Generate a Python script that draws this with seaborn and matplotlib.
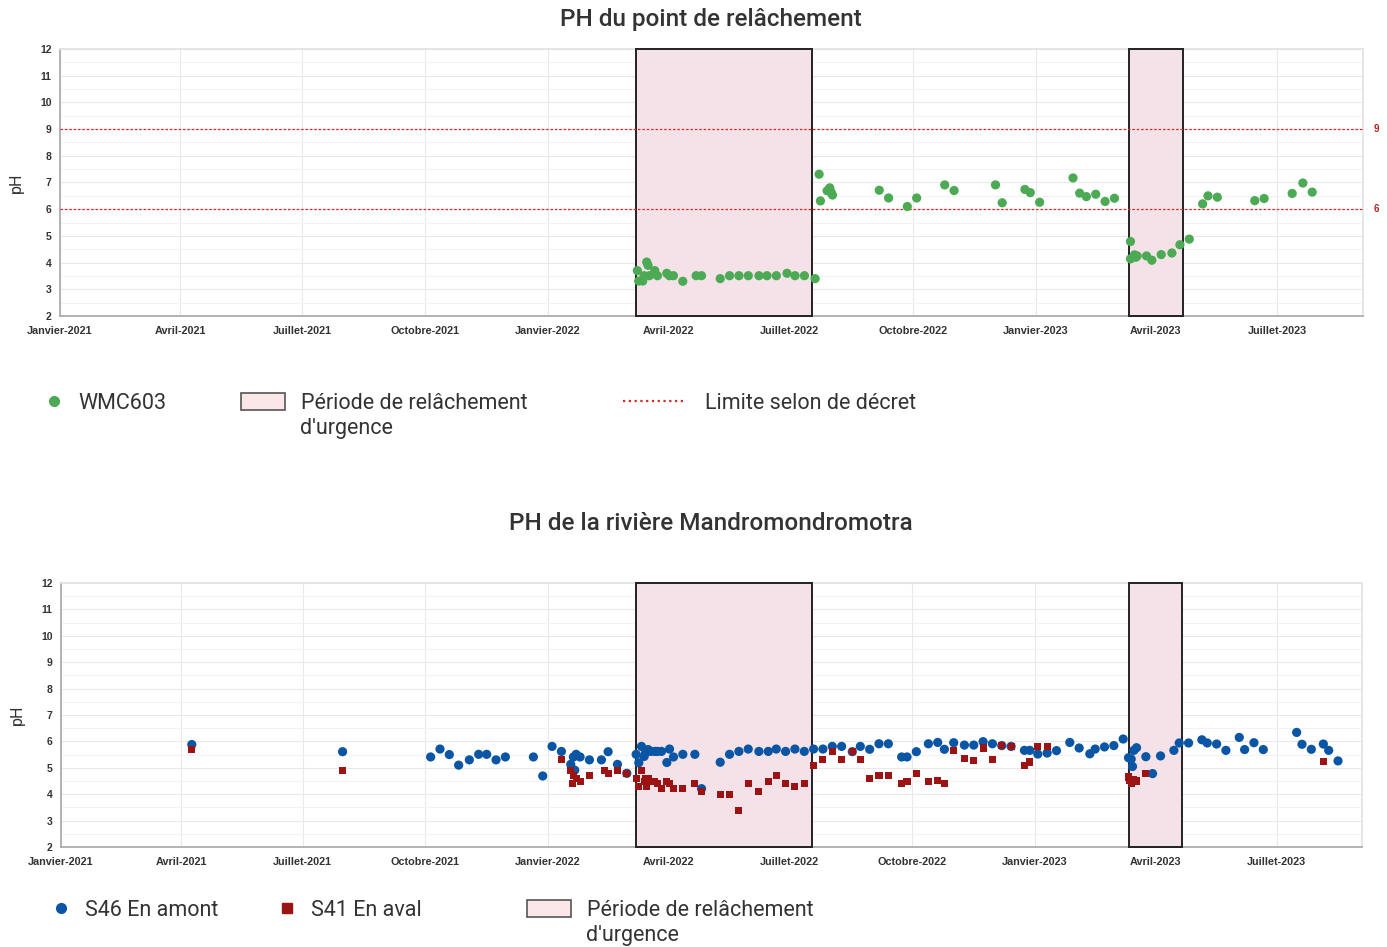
import pandas as pd
import numpy as np
import matplotlib
matplotlib.use("Agg")
import matplotlib.pyplot as plt
import seaborn as sns
from matplotlib.lines import Line2D
from matplotlib.patches import Patch

# ---------------- données ----------------
# WMC603 : pH du point de relâchement
wmc_dates = ['2022-03-09', '2022-03-10', '2022-03-13', '2022-03-14', '2022-03-16', '2022-03-17',
             '2022-03-18', '2022-03-22', '2022-03-24', '2022-03-31', '2022-04-02', '2022-04-05',
             '2022-04-12', '2022-04-22', '2022-04-26', '2022-05-10', '2022-05-17', '2022-05-24',
             '2022-05-31', '2022-06-08', '2022-06-14', '2022-06-21', '2022-06-29', '2022-07-05',
             '2022-07-12', '2022-07-20', '2022-07-23', '2022-07-24', '2022-07-29', '2022-07-31',
             '2022-08-01', '2022-08-02', '2022-09-06', '2022-09-13', '2022-09-27', '2022-10-04',
             '2022-10-25', '2022-11-01', '2022-12-02', '2022-12-07', '2022-12-24', '2022-12-28',
             '2023-01-04', '2023-01-29', '2023-02-03', '2023-02-08', '2023-02-15', '2023-02-22',
             '2023-03-01', '2023-03-13', '2023-03-13', '2023-03-16', '2023-03-17', '2023-03-18',
             '2023-03-25', '2023-03-29', '2023-04-05', '2023-04-13', '2023-04-19', '2023-04-26',
             '2023-05-06', '2023-05-10', '2023-05-17', '2023-06-14', '2023-06-21', '2023-07-12',
             '2023-07-20', '2023-07-27']
wmc_ph = [3.70, 3.31, 3.31, 3.51, 4.02, 3.90,
          3.51, 3.70, 3.51, 3.60, 3.51, 3.51,
          3.30, 3.51, 3.51, 3.40, 3.51, 3.51,
          3.51, 3.51, 3.51, 3.51, 3.60, 3.51,
          3.51, 3.40, 7.31, 6.31, 6.69, 6.80,
          6.63, 6.53, 6.71, 6.42, 6.10, 6.42,
          6.91, 6.70, 6.91, 6.24, 6.74, 6.62,
          6.26, 7.17, 6.60, 6.47, 6.56, 6.29,
          6.41, 4.79, 4.14, 4.29, 4.20, 4.25,
          4.25, 4.09, 4.30, 4.36, 4.67, 4.88,
          6.20, 6.50, 6.45, 6.32, 6.40, 6.59,
          6.98, 6.64]

# S46 en amont
s46_dates = ['2021-04-09', '2021-07-31', '2021-10-05', '2021-10-12', '2021-10-19', '2021-10-26',
             '2021-11-03', '2021-11-10', '2021-11-16', '2021-11-23', '2021-11-30', '2021-12-21',
             '2021-12-28', '2022-01-04', '2022-01-11', '2022-01-18', '2022-01-20', '2022-01-21',
             '2022-01-22', '2022-01-25', '2022-02-01', '2022-02-10', '2022-02-15', '2022-02-22',
             '2022-03-01', '2022-03-08', '2022-03-10', '2022-03-12', '2022-03-14', '2022-03-15',
             '2022-03-17', '2022-03-19', '2022-03-22', '2022-03-24', '2022-03-27', '2022-03-31',
             '2022-04-02', '2022-04-05', '2022-04-12', '2022-04-21', '2022-04-26', '2022-05-10',
             '2022-05-17', '2022-05-24', '2022-05-31', '2022-06-08', '2022-06-15', '2022-06-21',
             '2022-06-28', '2022-07-05', '2022-07-12', '2022-07-19', '2022-07-26', '2022-08-02',
             '2022-08-09', '2022-08-17', '2022-08-23', '2022-08-30', '2022-09-06', '2022-09-13',
             '2022-09-23', '2022-09-27', '2022-10-04', '2022-10-13', '2022-10-20', '2022-10-25',
             '2022-11-01', '2022-11-09', '2022-11-16', '2022-11-23', '2022-11-30', '2022-12-07',
             '2022-12-14', '2022-12-24', '2022-12-28', '2023-01-03', '2023-01-10', '2023-01-17',
             '2023-01-27', '2023-02-03', '2023-02-11', '2023-02-15', '2023-02-22', '2023-03-01',
             '2023-03-08', '2023-03-12', '2023-03-14', '2023-03-15', '2023-03-16', '2023-03-18',
             '2023-03-25', '2023-03-30', '2023-04-05', '2023-04-15', '2023-04-19', '2023-04-26',
             '2023-05-06', '2023-05-10', '2023-05-17', '2023-05-24', '2023-06-03', '2023-06-07',
             '2023-06-14', '2023-06-21', '2023-07-16', '2023-07-20', '2023-07-27', '2023-08-05',
             '2023-08-09', '2023-08-16']
s46_ph = [5.88, 5.61, 5.41, 5.71, 5.50, 5.10,
          5.30, 5.51, 5.51, 5.30, 5.41, 5.41,
          4.69, 5.81, 5.62, 5.13, 5.41, 4.91,
          5.51, 5.41, 5.30, 5.30, 5.61, 5.13,
          4.79, 5.51, 5.19, 5.81, 5.43, 5.56,
          5.69, 5.62, 5.62, 5.62, 5.62, 5.20,
          5.71, 5.41, 5.51, 5.51, 4.21, 5.21,
          5.51, 5.62, 5.71, 5.62, 5.62, 5.71,
          5.62, 5.71, 5.62, 5.71, 5.71, 5.81,
          5.81, 5.61, 5.81, 5.70, 5.91, 5.91,
          5.41, 5.41, 5.61, 5.91, 5.96, 5.70,
          5.95, 5.86, 5.86, 5.99, 5.91, 5.84,
          5.81, 5.66, 5.66, 5.52, 5.56, 5.65,
          5.96, 5.75, 5.53, 5.71, 5.79, 5.84,
          6.09, 5.38, 5.33, 5.05, 5.66, 5.76,
          5.42, 4.78, 5.45, 5.66, 5.94, 5.94,
          6.06, 5.94, 5.90, 5.66, 6.15, 5.69,
          5.95, 5.69, 6.34, 5.89, 5.70, 5.90,
          5.66, 5.26]

# S41 en aval
s41_dates = ['2021-04-09', '2021-07-31', '2022-01-11', '2022-01-18', '2022-01-19', '2022-01-20',
             '2022-01-22', '2022-01-25', '2022-02-01', '2022-02-12', '2022-02-15', '2022-02-22',
             '2022-03-01', '2022-03-08', '2022-03-10', '2022-03-12', '2022-03-14', '2022-03-15',
             '2022-03-16', '2022-03-17', '2022-03-19', '2022-03-22', '2022-03-24', '2022-03-27',
             '2022-03-31', '2022-04-02', '2022-04-05', '2022-04-12', '2022-04-21', '2022-04-26',
             '2022-05-10', '2022-05-17', '2022-05-24', '2022-05-31', '2022-06-08', '2022-06-15',
             '2022-06-21', '2022-06-28', '2022-07-05', '2022-07-12', '2022-07-19', '2022-07-26',
             '2022-08-02', '2022-08-09', '2022-08-17', '2022-08-23', '2022-08-30', '2022-09-06',
             '2022-09-13', '2022-09-23', '2022-09-27', '2022-10-04', '2022-10-13', '2022-10-20',
             '2022-10-25', '2022-11-01', '2022-11-09', '2022-11-16', '2022-11-23', '2022-11-30',
             '2022-12-07', '2022-12-14', '2022-12-24', '2022-12-28', '2023-01-03', '2023-01-10',
             '2023-03-12', '2023-03-13', '2023-03-14', '2023-03-16', '2023-03-18', '2023-03-25',
             '2023-08-05']
s41_ph = [5.71, 4.90, 5.30, 4.90, 4.40, 4.70,
          4.60, 4.49, 4.70, 4.90, 4.79, 4.90,
          4.79, 4.60, 4.30, 4.90, 4.49, 4.60,
          4.30, 4.60, 4.49, 4.49, 4.40, 4.20,
          4.49, 4.40, 4.20, 4.20, 4.40, 4.09,
          3.98, 3.98, 3.38, 4.40, 4.09, 4.49,
          4.70, 4.40, 4.28, 4.40, 5.10, 5.30,
          5.61, 5.30, 5.61, 5.30, 4.60, 4.70,
          4.70, 4.40, 4.49, 4.79, 4.49, 4.51,
          4.40, 5.65, 5.36, 5.27, 5.75, 5.31,
          5.84, 5.81, 5.08, 5.22, 5.81, 5.80,
          4.65, 4.52, 4.40, 4.57, 4.50, 4.78,
          5.24]

# périodes de relâchement d'urgence
periode_debut = ['2022-03-08', '2023-03-12']
periode_fin = ['2022-07-18', '2023-04-21']

# limites selon décret
limites = [9, 6]

tick_dates = ['2021-01-01', '2021-04-01', '2021-07-01', '2021-10-01', '2022-01-01', '2022-04-01',
              '2022-07-01', '2022-10-01', '2023-01-01', '2023-04-01', '2023-07-01']
tick_labels = ['Janvier-2021', 'Avril-2021', 'Juillet-2021', 'Octobre-2021', 'Janvier-2022',
               'Avril-2022', 'Juillet-2022', 'Octobre-2022', 'Janvier-2023', 'Avril-2023',
               'Juillet-2023']

# ---------------- style ----------------
sns.set_theme(style="white")
plt.rcParams['font.family'] = ['Roboto', 'DejaVu Sans']

VERT = '#4caa55'
BLEU = '#0b55a5'
ROUGE = '#9c1313'
ROSE = '#f5e2e9'
LIMITE = '#d42a2a'
TEXTE = '#333333'

df_wmc = pd.DataFrame({'date': pd.to_datetime(wmc_dates), 'pH': wmc_ph})
df_s46 = pd.DataFrame({'date': pd.to_datetime(s46_dates), 'pH': s46_ph})
df_s41 = pd.DataFrame({'date': pd.to_datetime(s41_dates), 'pH': s41_ph})

fig = plt.figure(figsize=(13.87, 9.47), dpi=100)
ax1 = fig.add_axes([0.0433, 0.6663, 0.9394, 0.2820])
ax2 = fig.add_axes([0.0440, 0.1056, 0.9380, 0.2788])


def style_axe(ax):
    ax.set_xlim(pd.Timestamp('2021-01-01'), pd.Timestamp('2023-09-03'))
    ax.set_ylim(2, 12)
    ax.set_yticks(range(2, 13))
    ax.set_yticks(np.arange(2.5, 12, 1), minor=True)
    ax.set_xticks(pd.to_datetime(tick_dates))
    ax.set_xticklabels(tick_labels, fontfamily='Liberation Sans', fontweight='bold',
                       fontsize=7.8, color=TEXTE)
    for lab in ax.get_yticklabels():
        lab.set_fontfamily('Liberation Sans')
        lab.set_fontweight('bold')
        lab.set_fontsize(7.5)
        lab.set_color(TEXTE)
    ax.grid(which='major', color='#e9e9e9', linewidth=0.8)
    ax.grid(which='minor', axis='y', color='#f3f3f3', linewidth=0.8)
    ax.tick_params(axis='x', which='major', length=4, width=0.8, color='#aaaaaa', pad=3.5)
    ax.tick_params(axis='y', which='major', length=4, width=0.8, color='#aaaaaa', pad=2)
    ax.tick_params(axis='y', which='minor', length=0)
    for side in ['top', 'right']:
        ax.spines[side].set_color('#e3e3e3')
    for side in ['left', 'bottom']:
        ax.spines[side].set_color('#aaaaaa')
    ax.set_axisbelow(True)
    # périodes de relâchement (cadre complet, au-dessus des bords de l'axe)
    for d, f in zip(periode_debut, periode_fin):
        ax.axvspan(pd.Timestamp(d), pd.Timestamp(f), facecolor=ROSE, edgecolor='#222222',
                   linewidth=1.4, zorder=2.6, clip_on=False)


# ---------------- graphique du haut ----------------
style_axe(ax1)
for lim in limites:
    ax1.axhline(lim, color=LIMITE, linestyle=(0, (2, 1.5)), linewidth=0.9, zorder=2.7)
    ax1.text(1.008, lim, str(lim), transform=ax1.get_yaxis_transform(), color='#b02020',
             fontsize=7, fontfamily='Liberation Sans', fontweight='bold', va='center', ha='left')
sns.scatterplot(data=df_wmc, x='date', y='pH', ax=ax1, color=VERT, s=44,
                edgecolor='none', zorder=3, legend=False)

# ---------------- graphique du bas ----------------
style_axe(ax2)
sns.scatterplot(data=df_s46, x='date', y='pH', ax=ax2, color=BLEU, s=44,
                edgecolor='none', zorder=3, legend=False)
sns.scatterplot(data=df_s41, x='date', y='pH', ax=ax2, color=ROUGE, s=26, marker='s',
                edgecolor='none', zorder=4, legend=False)

for ax in [ax1, ax2]:
    ax.set_xlabel('')
    ax.set_ylabel('pH', fontsize=11.5, color=TEXTE)
    ax.yaxis.set_label_coords(-0.028, 0.5)

# ---------------- titres ----------------
fig.text(0.5126, 0.979, 'PH du point de relâchement', ha='center', va='center',
         fontsize=17.5, fontweight='medium', color=TEXTE)
fig.text(0.5126, 0.4467, 'PH de la rivière Mandromondromotra', ha='center', va='center',
         fontsize=17.5, fontweight='medium', color=TEXTE)

# ---------------- légendes ----------------
FS = 15.5
patch_rose = Patch(facecolor='#fbe6e8', edgecolor='#555555', linewidth=1.2)


def legende(handle, label, x_px, y_px, hl, pad, hh=0.7):
    fig.legend(handles=[handle], labels=[label], loc='upper left',
               bbox_to_anchor=(x_px / 1387, 1 - y_px / 947), frameon=False,
               fontsize=FS, labelcolor=TEXTE, borderpad=0, borderaxespad=0,
               handlelength=hl, handletextpad=pad, handleheight=hh)


legende(Line2D([], [], marker='o', color=VERT, linestyle='none', markersize=7),
        'WMC603', 43, 393, 1.0, 0.62)
legende(patch_rose, 'Période de relâchement', 241, 393, 2.05, 0.72, 0.85)
fig.text(300 / 1387, 1 - 428 / 947, "d'urgence", fontsize=FS, color=TEXTE, va='center')
legende(Line2D([], [], color=LIMITE, linestyle=(0, (1, 1.6)), linewidth=1.6),
        'Limite selon de décret', 623, 393, 2.8, 1.0)

legende(Line2D([], [], marker='o', color=BLEU, linestyle='none', markersize=7),
        'S46 En amont', 50, 900, 1.0, 0.62)
legende(Line2D([], [], marker='s', color=ROUGE, linestyle='none', markersize=7),
        'S41 En aval', 276, 900, 1.0, 0.62)
legende(patch_rose, 'Période de relâchement', 527, 900, 2.05, 0.72, 0.85)
fig.text(586 / 1387, 1 - 935 / 947, "d'urgence", fontsize=FS, color=TEXTE, va='center')

plt.savefig('out.png', dpi=100)
